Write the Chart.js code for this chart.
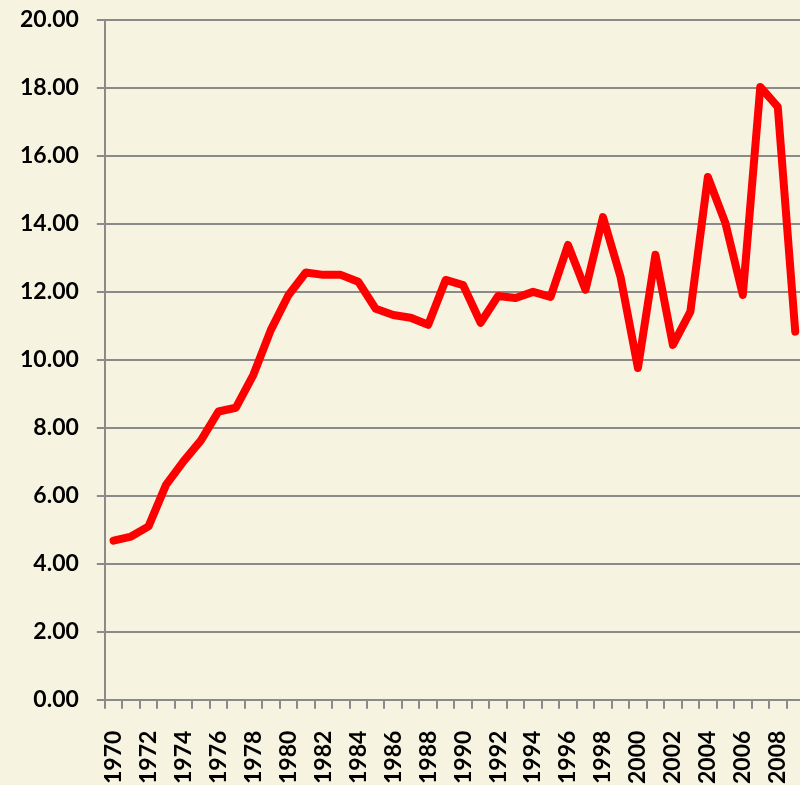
<!DOCTYPE html>
<html>
<head>
<meta charset="utf-8">
<script src="https://cdn.jsdelivr.net/npm/chart.js@4.4.1/dist/chart.umd.min.js"></script>
<style>
html, body { margin:0; padding:0; overflow:hidden; background:#F6F4E1; width:800px; height:785px; }
#c { position:absolute; left:0; top:0; }
</style>
</head>
<body>
<canvas id="c" width="804" height="785"></canvas>
<script>
const years = ["1970","1971","1972","1973","1974","1975","1976","1977","1978","1979",
  "1980","1981","1982","1983","1984","1985","1986","1987","1988","1989",
  "1990","1991","1992","1993","1994","1995","1996","1997","1998","1999",
  "2000","2001","2002","2003","2004","2005","2006","2007","2008","2009"];
const values = [4.68,4.80,5.10,6.32,7.01,7.63,8.48,8.59,9.56,10.88,
  11.90,12.57,12.50,12.50,12.30,11.50,11.32,11.24,11.03,12.35,
  12.20,11.09,11.88,11.82,12.00,11.85,13.38,12.06,14.20,12.45,
  9.76,13.09,10.44,11.42,15.38,14.03,11.91,18.03,17.44,10.83];
const yMin = 0, yMax = 20, yStep = 2;

const bg = {
  id: 'bg',
  beforeDraw(chart) {
    const ctx = chart.ctx;
    ctx.save();
    ctx.fillStyle = '#F6F4E1';
    ctx.fillRect(0, 0, chart.width, chart.height);
    ctx.restore();
  }
};
const gridColor = '#8A8A8A';
new Chart(document.getElementById('c'), {
  type: 'line',
  data: {
    labels: years,
    datasets: [{
      data: values,
      borderColor: '#FF0000',
      borderWidth: 8,
      pointRadius: 0,
      tension: 0,
      borderJoinStyle: 'round',
      borderCapStyle: 'round',
      fill: false
    }]
  },
  options: {
    responsive: false,
    animation: false,
    layout: { padding: { left: 2, top: 20, right: 0, bottom: -21 } },
    plugins: { legend: { display: false }, tooltip: { enabled: false } },
    scales: {
      x: {
        type: 'category',
        offset: true,
        afterFit(s) { s.paddingLeft = 0; s.paddingRight = 0; },
        grid: { offset: true, drawOnChartArea: false, drawTicks: true, tickLength: 9, color: gridColor, lineWidth: 2 },
        border: { display: true, color: gridColor, width: 2 },
        ticks: {
          autoSkip: false, maxRotation: 90, minRotation: 90, padding: 22,
          color: '#000', font: { family: 'Lato', weight: 'bold', size: 23 },
          callback: function(v, i) { return i % 2 === 0 ? this.getLabelForValue(v) : ''; }
        }
      },
      y: {
        min: yMin, max: yMax,
        afterFit(s) { s.paddingTop = 0; s.paddingBottom = 0; },
        grid: { color: gridColor, lineWidth: 2, drawTicks: true, tickLength: 8 },
        border: { display: true, color: gridColor, width: 2 },
        ticks: {
          stepSize: yStep, padding: 18, color: '#000',
          font: { family: 'Lato', weight: 'bold', size: 23 },
          callback: v => Number(v).toFixed(2)
        }
      }
    }
  },
  plugins: [bg]
});
</script>
</body>
</html>
